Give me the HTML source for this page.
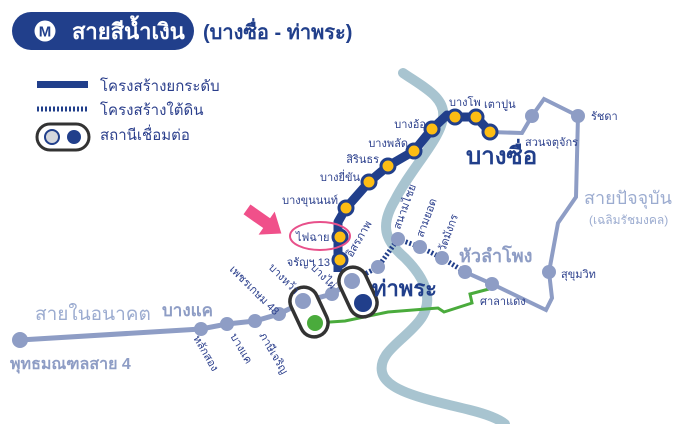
<!DOCTYPE html>
<html><head><meta charset="utf-8"><style>
html,body{margin:0;padding:0;background:#fff;}
svg{display:block;}
text{font-family:"Liberation Sans","Noto Sans CJK SC","WenQuanYi Zen Hei",sans-serif;}
.s{font-size:11px;fill:#2b3f8c;}
</style></head><body>
<svg width="680" height="424" viewBox="0 0 680 424" xmlns="http://www.w3.org/2000/svg">
<rect width="680" height="424" fill="#fff"/>
<!-- header -->
<rect x="12" y="12" width="182" height="38" rx="19" fill="#213f8b"/>
<circle cx="45" cy="31" r="10.5" fill="#fff"/>
<text x="45" y="36.5" text-anchor="middle" font-size="15" font-weight="bold" fill="#213f8b">M</text>
<text x="72" y="39" font-size="22" font-weight="bold" fill="#fff">สายสีน้ำเงิน</text>
<text x="203" y="39" font-size="20" font-weight="bold" fill="#213f8b">(บางซื่อ - ท่าพระ)</text>
<!-- legend -->
<rect x="37" y="81" width="51" height="7" fill="#213f8b"/>
<line x1="37" y1="109" x2="88" y2="109" stroke="#213f8b" stroke-width="5" stroke-dasharray="2,2"/>
<rect x="37" y="124" width="52" height="26" rx="13" fill="#fff" stroke="#333" stroke-width="3"/>
<circle cx="52" cy="137" r="7" fill="#d5d7dc" stroke="#213f8b" stroke-width="2"/>
<circle cx="74" cy="137" r="7" fill="#213f8b"/>
<text x="100" y="91" font-size="15" fill="#2b3f8c">โครงสร้างยกระดับ</text>
<text x="100" y="115" font-size="15" fill="#2b3f8c">โครงสร้างใต้ดิน</text>
<text x="100" y="140" font-size="15" fill="#2b3f8c">สถานีเชื่อมต่อ</text>
<!-- river -->
<path d="M403,73 C425,88 446,98 443,118 C440,140 410,170 395,200 C380,225 384,240 405,258 C425,278 435,300 420,320 C405,340 378,352 382,372 C386,392 430,400 470,410 C490,415 500,420 505,424" fill="none" stroke="#a8c4d0" stroke-width="10" stroke-linecap="round"/>
<!-- current line -->
<polyline points="490,132 522,133 532,116 544,99 578,116 576,197 558,223 549,272 552,298 546,310 492,284 465,272" fill="none" stroke="#8e9dc5" stroke-width="4"/>
<!-- future west line -->
<polyline points="20,340 201,329 227,324 255,321 279,314 303,302 332,294 352,281" fill="none" stroke="#8e9dc5" stroke-width="5"/>
<!-- green line -->
<polyline points="315,323 345,321 388,312 438,308 444,312 472,303 470,294 489,289" fill="none" stroke="#4aab3c" stroke-width="3"/>
<!-- underground dotted -->
<polyline points="352,281 378,267 398,239 420,247 442,258 465,272" fill="none" stroke="#213f8b" stroke-width="5" stroke-dasharray="2,2"/>
<!-- elevated blue -->
<polyline points="338,272 338,222 346,208 369,182 388,166 414,151 432,129 447,115 455,117 476,117 490,132" fill="none" stroke="#213f8b" stroke-width="9" stroke-linejoin="round"/>
<!-- interchange pills -->
<g transform="translate(309,312) rotate(-25)"><rect x="-14" y="-26" width="28" height="52" rx="14" fill="#fff" stroke="#333" stroke-width="3.5"/></g>
<circle cx="303" cy="301" r="8" fill="#8e9dc5"/>
<circle cx="315" cy="323" r="8" fill="#4aab3c"/>
<g transform="translate(358,292) rotate(-25)"><rect x="-14" y="-26" width="28" height="52" rx="14" fill="#fff" stroke="#333" stroke-width="3.5"/></g>
<circle cx="352" cy="281" r="8" fill="#8e9dc5"/>
<circle cx="363" cy="303" r="9" fill="#213f8b"/>
<!-- grey stations -->
<g fill="#8e9dc5">
<circle cx="20" cy="340" r="8"/><circle cx="201" cy="329" r="7"/><circle cx="227" cy="324" r="7"/><circle cx="255" cy="321" r="7"/><circle cx="279" cy="314" r="7"/><circle cx="332" cy="294" r="7"/>
<circle cx="378" cy="267" r="7"/><circle cx="398" cy="239" r="7"/><circle cx="420" cy="247" r="7"/><circle cx="442" cy="258" r="7"/><circle cx="465" cy="272" r="7"/><circle cx="492" cy="284" r="7"/>
<circle cx="549" cy="272" r="7"/><circle cx="578" cy="116" r="7"/><circle cx="532" cy="116" r="7"/>
</g>
<!-- yellow stations -->
<g fill="#fdbd14" stroke="#213f8b" stroke-width="3">
<circle cx="346" cy="208" r="7"/><circle cx="369" cy="182" r="7"/><circle cx="388" cy="166" r="7"/><circle cx="414" cy="151" r="7"/><circle cx="432" cy="129" r="7"/><circle cx="455" cy="117" r="7"/><circle cx="476" cy="117" r="7"/><circle cx="490" cy="132" r="7"/>
<circle cx="340" cy="237" r="7"/><circle cx="340" cy="260" r="7"/>
</g>
<!-- pink highlight -->
<ellipse cx="320" cy="236" rx="30" ry="14" fill="none" stroke="#e8508a" stroke-width="2"/>
<g transform="translate(265,222) rotate(35)"><polygon points="-22,-6 2,-6 2,-14 20,0 2,14 2,6 -22,6" fill="#f0508a"/></g>
<!-- labels -->
<g class="s">
<text x="338" y="204" text-anchor="end">บางขุนนนท์</text>
<text x="360" y="181" text-anchor="end">บางยี่ขัน</text>
<text x="379" y="163" text-anchor="end">สิรินธร</text>
<text x="408" y="147" text-anchor="end">บางพลัด</text>
<text x="426" y="128" text-anchor="end">บางอ้อ</text>
<text x="449" y="106">บางโพ</text>
<text x="484" y="108">เตาปูน</text>
<text x="296" y="241">ไฟฉาย</text>
<text x="330" y="266" text-anchor="end">จรัญฯ 13</text>
<text x="525" y="146">สวนจตุจักร</text>
<text x="591" y="120">รัชดา</text>
<text x="561" y="278">สุขุมวิท</text>
<text x="480" y="305">ศาลาแดง</text>
<text transform="translate(352,258) rotate(-60)">อิสรภาพ</text>
<text transform="translate(400,230) rotate(-70)">สนามไชย</text>
<text transform="translate(423,238) rotate(-70)">สามยอด</text>
<text transform="translate(445,252) rotate(-70)">วัดมังกร</text>
<text transform="translate(229,270) rotate(45)">เพชรเกษม 48</text>
<text transform="translate(268,268) rotate(45)">บางหว้า</text>
<text transform="translate(310,268) rotate(45)">บางไผ่</text>
<text transform="translate(193,338) rotate(60)">หลักสอง</text>
<text transform="translate(230,336) rotate(60)">บางแค</text>
<text transform="translate(259,335) rotate(60)">ภาษีเจริญ</text>
</g>
<text x="466" y="164" font-size="24" font-weight="bold" fill="#213f8b">บางซื่อ</text>
<text x="372" y="296" font-size="22" font-weight="bold" fill="#213f8b">ท่าพระ</text>
<text x="459" y="262" font-size="18" font-weight="bold" fill="#8e9dc5">หัวลำโพง</text>
<text x="584" y="204" font-size="18" fill="#9cacd0">สายปัจจุบัน</text>
<text x="589" y="224" font-size="12" fill="#9cacd0">(เฉลิมรัชมงคล)</text>
<text x="35" y="320" font-size="19" fill="#9cacd0">สายในอนาคต</text>
<text x="162" y="316" font-size="17" font-weight="bold" fill="#8e9dc5">บางแค</text>
<text x="10" y="369" font-size="16" font-weight="bold" fill="#8e9dc5">พุทธมณฑลสาย 4</text>
</svg>
</body></html>
